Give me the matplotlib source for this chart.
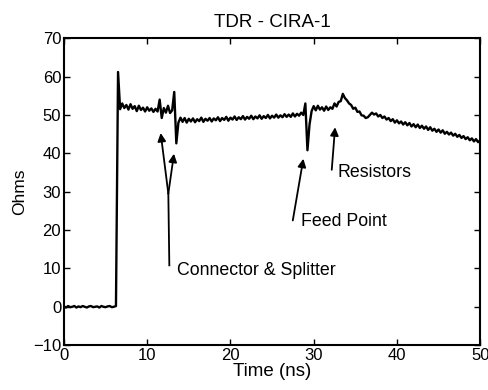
import numpy as np
import matplotlib
matplotlib.use("Agg")
import matplotlib.pyplot as plt

plt.rcParams['font.family'] = ['Liberation Sans', 'DejaVu Sans']

dt = 0.25
v_pre = [0.1, -0.2, 0.2, -0.1, 0.0, 0.2, -0.2, 0.1, -0.1, 0.2, 0.0, -0.2, 0.1,
         0.2, -0.1, 0.0, 0.1, -0.2, 0.2, 0.0, -0.1, 0.1, 0.2, -0.1, 0.0, 0.2]
v_conn = [61.2, 51.5, 53.0, 51.8, 52.6, 51.4, 52.8, 51.6, 52.3, 51.0, 52.4,
          51.3, 51.9, 50.9, 52.0, 51.1, 51.7, 50.8, 51.6, 50.9, 54.0, 49.2,
          51.8, 50.6, 52.4, 50.5, 51.2, 56.0, 42.6, 48.0, 49.3]
v_line = [48.2, 49.2, 48.0, 49.0, 48.3, 49.1, 48.1, 48.9, 48.4, 49.3, 48.2,
          49.0, 48.5, 49.2, 48.3, 49.1, 48.6, 49.4, 48.4, 49.2, 48.7, 49.5,
          48.5, 49.3, 48.8, 49.6, 48.7, 49.4, 48.9, 49.7, 48.8, 49.5, 49.0,
          49.8, 48.9, 49.6, 49.1, 49.9, 49.0, 49.7, 49.2, 50.0, 49.1, 49.8,
          49.3, 50.1, 49.3, 49.9, 49.4, 50.2, 49.5, 50.1, 49.5, 50.4, 49.6,
          50.3, 49.8, 50.6, 50.0]
v_feed = [53.0, 40.8, 47.5, 51.0, 52.3, 51.2, 52.4, 51.4, 52.0, 51.1, 52.2,
          51.3, 52.0, 51.6, 53.0, 52.2, 53.4, 53.6, 55.5, 54.4, 53.8, 53.0,
          52.6, 51.6, 51.9, 50.8, 50.9, 49.9, 49.8, 49.2, 49.4, 50.0, 50.6,
          50.1, 50.4, 49.6, 50.0, 49.2, 49.6, 48.8, 49.2, 48.4, 48.9, 48.0,
          48.6, 47.8, 48.3, 47.5, 48.1, 47.3, 47.9, 47.0, 47.6, 46.8, 47.5,
          46.6, 47.2, 46.4, 47.0, 46.1, 46.8, 45.9, 46.4, 45.6, 46.2, 45.4,
          46.0, 45.1, 45.6, 44.9, 45.4, 44.6, 45.1, 44.3, 44.8, 44.0, 44.5,
          43.7, 44.2, 43.4, 43.9, 43.1, 43.7, 42.9, 43.4]
ohms = np.array(v_pre + v_conn + v_line + v_feed)
time_ns = np.arange(len(ohms)) * dt

fig = plt.figure(figsize=(4.88, 3.9), dpi=100)
ax = fig.add_axes([0.131, 0.115, 0.853, 0.787])
ax.plot(time_ns, ohms, color='black', lw=1.7)

ax.set_xlim(0, 50)
ax.set_ylim(-10, 70)
ax.set_xticks(range(0, 51, 10))
ax.set_yticks(range(-10, 71, 10))
ax.tick_params(direction='in', top=True, right=True, length=4, width=1,
               labelsize=12, pad=2)
for s in ax.spines.values():
    s.set_linewidth(1.5)
ax.set_title('TDR - CIRA-1', fontsize=13.5, pad=8)
ax.set_xlabel('Time (ns)', fontsize=13.5, labelpad=0)
ax.set_ylabel('Ohms', fontsize=12.5, labelpad=4)

arrow = dict(arrowstyle='-|>', color='black', lw=1.3, mutation_scale=12,
             shrinkA=0, shrinkB=0)
# connector & splitter: stem plus two arrows
ax.plot([12.66, 12.54], [10.8, 29.5], color='black', lw=1.3)
ax.annotate('', xy=(11.62, 45.3), xytext=(12.54, 29.5), arrowprops=arrow)
ax.annotate('', xy=(13.22, 39.9), xytext=(12.54, 29.5), arrowprops=arrow)
ax.text(13.55, 9.5, 'Connector & Splitter', fontsize=12.8, va='center')

ax.annotate('', xy=(28.76, 38.6), xytext=(27.49, 22.5), arrowprops=arrow)
ax.text(28.45, 22.1, 'Feed Point', fontsize=12.8, va='center')

ax.annotate('', xy=(32.57, 46.8), xytext=(32.17, 35.7), arrowprops=arrow)
ax.text(32.85, 35.0, 'Resistors', fontsize=12.8, va='center')

fig.savefig('out.png', dpi=100)
